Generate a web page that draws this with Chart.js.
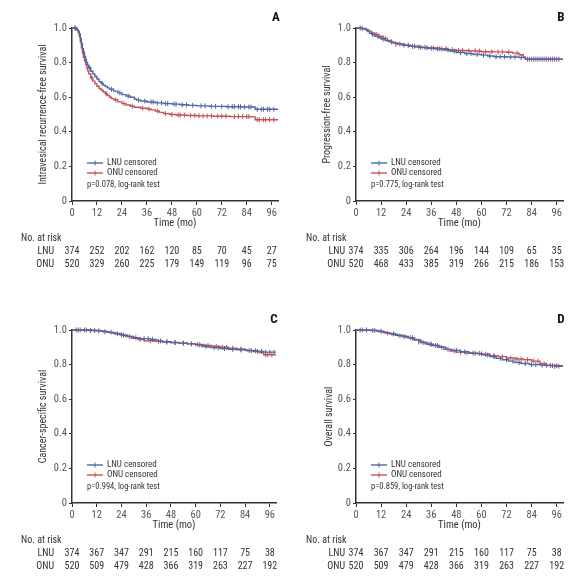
<!DOCTYPE html>
<html><head><meta charset="utf-8">
<script src="https://cdn.jsdelivr.net/npm/chart.js@4/dist/chart.umd.min.js"></script>
<style>
html,body{margin:0;padding:0;background:#fff;}
#wrap{position:relative;width:588px;height:583px;overflow:hidden;background:#fff;}
canvas{position:absolute;}
</style></head><body>
<div id="wrap">
<canvas id="cA" width="294" height="282" style="left:0;top:0"></canvas>
<canvas id="cB" width="294" height="282" style="left:294px;top:0"></canvas>
<canvas id="cC" width="294" height="281" style="left:0;top:302px"></canvas>
<canvas id="cD" width="294" height="281" style="left:294px;top:302px"></canvas>
</div>
<script>
// ---------- data ----------
const months = [0, 12, 24, 36, 48, 60, 72, 84, 96];
const yTicks = [0, 0.2, 0.4, 0.6, 0.8, 1.0];

// Panel A: intravesical recurrence-free survival
const tA_lnu = [0,2,3,3.5,4,4.5,5,5.5,6,6.5,7,7.5,8,9,10,11,12,13,14,15,16,17,18,20,22,24,26,28,30,31,33,36,40,44,48,52,56,60,66,74,82,88,99];
const sA_lnu = [1,0.99,0.98,0.965,0.94,0.91,0.88,0.86,0.835,0.815,0.8,0.785,0.77,0.75,0.735,0.72,0.705,0.69,0.68,0.67,0.662,0.654,0.646,0.635,0.625,0.615,0.607,0.6,0.59,0.583,0.578,0.572,0.567,0.563,0.56,0.556,0.553,0.55,0.547,0.545,0.543,0.53,0.53];
const cA_lnu = [1.5,8.5,14.5,19,23,27,32,35,38,39,41,43,45,46,49,50,53,55,58,62,64,67,69,72,75,77,78,80,81,83,85,86,89,91,92,94,95,97];
const tA_onu = [0,2.5,3,3.5,4,4.5,5,5.5,6,6.5,7,7.5,8,9,10,11,12,13,14,15,16,17,18,19,20,22,24,26,28,30,33,36,38,40,42,44,47,50,55,60,68,76,86,88,99];
const sA_onu = [1,0.99,0.975,0.95,0.92,0.885,0.855,0.83,0.81,0.79,0.77,0.752,0.735,0.712,0.693,0.677,0.663,0.65,0.64,0.63,0.62,0.61,0.6,0.592,0.585,0.573,0.563,0.555,0.548,0.542,0.536,0.532,0.527,0.52,0.512,0.505,0.5,0.497,0.494,0.492,0.49,0.488,0.486,0.47,0.47];
const cA_onu = [1.5,9.5,16.5,21,25,29,34,37,41,45,48,51,52,54,57,59,61,63,65,67,70,72,74,78,80,82,84,85,89,90,92,93,95,97];
const riskA_lnu = [374,252,202,162,120,85,70,45,27];
const riskA_onu = [520,329,260,225,179,149,119,96,75];

// Panel B: progression-free survival
const tB_lnu = [0,3,4.5,5.5,6.5,7.5,9,10.5,12,14,16,18,20,23,26,30,34,38,42,45,48,52,56,60,63,66,72,78,81,99];
const sB_lnu = [1,0.995,0.99,0.98,0.97,0.962,0.952,0.944,0.936,0.928,0.92,0.914,0.908,0.9,0.895,0.888,0.883,0.878,0.873,0.866,0.858,0.852,0.847,0.843,0.838,0.834,0.832,0.829,0.82,0.82];
const cB_lnu = [2,8,13,17,21,25,28,31,33,36,39,41,44,47,50,53,55,58,61,64,67,69,71,74,76,79,83,85,87,89,91,93,95,97];
const tB_onu = [0,3,5,6,7.5,9,11,13,15,17,19,22,25,28,32,36,40,44,48,54,60,66,72,75,78,80,81,99];
const sB_onu = [1,0.997,0.99,0.982,0.972,0.962,0.952,0.94,0.925,0.915,0.907,0.9,0.894,0.89,0.886,0.884,0.88,0.875,0.87,0.867,0.863,0.862,0.86,0.855,0.845,0.832,0.82,0.82];
const cB_onu = [3,10,14,19,23,27,30,34,37,40,43,46,49,51,54,57,59,62,65,68,70,73,77,82,84,86,88,90,92,94,96];
const riskB_lnu = [374,335,306,264,196,144,109,65,35];
const riskB_onu = [520,468,433,385,319,266,215,186,153];

// Panel C: cancer-specific survival
const tC_lnu = [0,8,12,15,18,21,24,27,30,33,38,41,44,48,52,56,60,63,67,72,76,80,85,90,93,99];
const sC_lnu = [1,0.997,0.995,0.99,0.985,0.978,0.97,0.962,0.955,0.95,0.946,0.937,0.932,0.928,0.924,0.92,0.914,0.905,0.898,0.893,0.889,0.885,0.88,0.876,0.872,0.872];
const cC_lnu = [3,6,9,13,16,22,25,31,35,37,39,43,46,50,54,58,62,65,69,71,74,78,82,87,89,92,94,96,98];
const tC_onu = [0,10,14,17,20,23,26,29,32,35,40,44,48,52,56,60,64,68,72,76,80,84,88,91,93,99];
const sC_onu = [1,0.997,0.993,0.988,0.98,0.972,0.962,0.952,0.945,0.938,0.934,0.93,0.927,0.924,0.92,0.916,0.91,0.905,0.9,0.895,0.89,0.882,0.876,0.87,0.857,0.857];
const cC_onu = [2,4,7,11,19,24,28,33,38,42,46,50,54,58,61,66,70,73,75,78,82,86,90,94,95,97];
const riskC_lnu = [374,367,347,291,215,160,117,75,38];
const riskC_onu = [520,509,479,428,366,319,263,227,192];

// Panel D: overall survival
const tD_lnu = [0,6,10,13,16,19,22,25,28,31,34,37,40,43,46,50,54,58,61,64,67,70,73,76,79,83,88,93,99];
const sD_lnu = [1,0.998,0.993,0.985,0.978,0.97,0.962,0.955,0.942,0.928,0.918,0.91,0.9,0.888,0.882,0.874,0.866,0.862,0.855,0.846,0.836,0.828,0.82,0.812,0.806,0.8,0.797,0.794,0.794];
const cD_lnu = [2,5,8,12,18,23,27,32,36,39,44,48,52,56,60,63,66,69,72,75,78,81,84,86,89,91,94,96];
const tD_onu = [0,7,11,14,17,20,24,27,30,33,36,39,42,45,48,52,56,60,64,68,72,76,80,84,88,91,95,99];
const sD_onu = [1,0.997,0.99,0.982,0.974,0.966,0.956,0.945,0.93,0.92,0.91,0.9,0.888,0.878,0.872,0.868,0.865,0.86,0.852,0.846,0.838,0.832,0.828,0.82,0.805,0.795,0.79,0.79];
const cD_onu = [3,9,15,21,26,30,35,38,41,47,50,53,57,59,62,66,70,74,77,79,82,85,87,90,93,95,97];
const riskD_lnu = [374,367,347,291,215,160,117,75,38];
const riskD_onu = [520,509,479,428,366,319,263,227,192];

const seriesNames = ['LNU', 'ONU'];
const legendLabels = ['LNU censored', 'ONU censored'];

// ---------- styling ----------
const FONT = '"Roboto Condensed","DejaVu Sans Condensed",sans-serif';
const BLUE = '#4b67a3';
const RED = '#c5505c';
const AXIS = '#333';

function pts(ts, ss) { return ts.map((t, i) => ({ x: t, y: ss[i] })); }
function stepAt(ts, ss, t) { let v = ss[0]; for (let i = 0; i < ts.length; i++) { if (ts[i] <= t) v = ss[i]; else break; } return v; }
function cens(ts, ss, cs) { return cs.map(t => ({ x: t, y: stepAt(ts, ss, t) })); }

const overlay = {
  id: 'overlay',
  afterDraw(chart) {
    const p = chart.config.options.plugins.overlay;
    const ctx = chart.ctx, a = chart.chartArea, xs = chart.scales.x;
    ctx.save();
    // panel letter
    ctx.fillStyle = '#111';
    ctx.font = 'bold 13px ' + FONT;
    ctx.textAlign = 'center'; ctx.textBaseline = 'middle';
    ctx.fillText(p.letter, a.right - 2, a.top - 10);
    // legend
    ctx.font = '9px ' + FONT;
    ctx.textAlign = 'left';
    [[BLUE, 135], [RED, 145]].forEach(([c, dy], i) => {
      const y = a.top + dy;
      ctx.strokeStyle = c; ctx.lineWidth = 1.4;
      ctx.beginPath(); ctx.moveTo(a.left + 15, y); ctx.lineTo(a.left + 31, y); ctx.stroke();
      ctx.lineWidth = 1;
      ctx.beginPath(); ctx.moveTo(a.left + 23, y - 2.5); ctx.lineTo(a.left + 23, y + 2.5); ctx.stroke();
      ctx.fillStyle = '#333';
      ctx.fillText(legendLabels[i], a.left + 35, y);
    });
    ctx.font = '8.5px ' + FONT;
    ctx.fillText(p.pText, a.left + 15, a.top + 157);
    // risk table
    ctx.fillStyle = '#333';
    ctx.font = '10px ' + FONT;
    ctx.textAlign = 'left';
    ctx.fillText('No. at risk', a.left - p.noRiskOffset, a.bottom + 37);
    [p.riskL, p.riskO].forEach((row, r) => {
      const y = a.bottom + 50 + r * 13;
      ctx.textAlign = 'right';
      ctx.fillText(seriesNames[r], a.left - p.labelGap, y);
      ctx.textAlign = 'center';
      row.forEach((v, i) => ctx.fillText(String(v), xs.getPixelForValue(months[i]), y));
    });
    ctx.restore();
  }
};

function makePanel(id, p) {
  const lineDs = (ts, ss, c) => ({ data: pts(ts, ss), borderColor: c, borderWidth: 1.4, stepped: true, pointRadius: 0, fill: false, clip: 6 });
  const censDs = (ts, ss, cs, c) => ({ data: cens(ts, ss, cs), showLine: false, pointStyle: 'line', rotation: 90, pointRadius: 2.5, pointBorderWidth: 1, borderColor: c, backgroundColor: c, clip: 6 });
  new Chart(document.getElementById(id), {
    type: 'line',
    data: {
      datasets: [
        lineDs(p.tL, p.sL, BLUE), censDs(p.tL, p.sL, p.cL, BLUE),
        lineDs(p.tO, p.sO, RED), censDs(p.tO, p.sO, p.cO, RED)
      ]
    },
    options: {
      responsive: false, animation: false, events: [],
      layout: { padding: { top: 28, left: 0, right: p.rightPad, bottom: p.bottomPad } },
      plugins: {
        legend: { display: false }, tooltip: { enabled: false },
        overlay: p
      },
      scales: {
        x: {
          type: 'linear', min: 0, max: 99,
          afterBuildTicks: s => { s.ticks = months.map(v => ({ value: v })); },
          afterFit: s => { s.height = 30; },
          ticks: { font: { size: 10.5, family: FONT }, color: '#555', padding: 2, maxRotation: 0, autoSkip: false },
          grid: { drawOnChartArea: false, tickLength: 4, color: AXIS, lineWidth: 1 },
          border: { color: AXIS, width: 1.5 },
          title: { display: true, text: 'Time (mo)', font: { size: 10.5, family: FONT }, color: '#333', padding: { top: 0, bottom: 1 } }
        },
        y: {
          min: 0, max: 1,
          afterBuildTicks: s => { s.ticks = yTicks.map(v => ({ value: v })); },
          afterFit: s => { s.width = p.axisLeft; },
          ticks: { font: { size: 10.5, family: FONT }, color: '#555', padding: 2, callback: v => v === 0 ? '0' : v.toFixed(1) },
          grid: { drawOnChartArea: false, tickLength: 3, color: AXIS, lineWidth: 1 },
          border: { color: AXIS, width: 1.5 },
          title: { display: true, text: p.yTitle, font: { size: 10, family: FONT }, color: '#333', padding: { top: p.titlePad, bottom: 0 } }
        }
      }
    },
    plugins: [overlay]
  });
}

makePanel('cA', { letter: 'A', yTitle: 'Intravesical recurrence-free survival', pText: 'p=0.078, log-rank test',
  tL: tA_lnu, sL: sA_lnu, cL: cA_lnu, tO: tA_onu, sO: sA_onu, cO: cA_onu, riskL: riskA_lnu, riskO: riskA_onu,
  axisLeft: 72, rightPad: 16, bottomPad: 51, titlePad: 37, labelGap: 18, noRiskOffset: 51 });
makePanel('cB', { letter: 'B', yTitle: 'Progression-free survival', pText: 'p=0.775, log-rank test',
  tL: tB_lnu, sL: sB_lnu, cL: cB_lnu, tO: tB_onu, sO: sB_onu, cO: cB_onu, riskL: riskB_lnu, riskO: riskB_onu,
  axisLeft: 62, rightPad: 25, bottomPad: 51, titlePad: 27, labelGap: 11, noRiskOffset: 50 });
makePanel('cC', { letter: 'C', yTitle: 'Cancer-specific survival', pText: 'p=0.994, log-rank test',
  tL: tC_lnu, sL: sC_lnu, cL: cC_lnu, tO: tC_onu, sO: sC_onu, cO: cC_onu, riskL: riskC_lnu, riskO: riskC_onu,
  axisLeft: 72, rightPad: 18, bottomPad: 50, titlePad: 37, labelGap: 18, noRiskOffset: 51 });
makePanel('cD', { letter: 'D', yTitle: 'Overall survival', pText: 'p=0.859, log-rank test',
  tL: tD_lnu, sL: sD_lnu, cL: cD_lnu, tO: tD_onu, sO: sD_onu, cO: cD_onu, riskL: riskD_lnu, riskO: riskD_onu,
  axisLeft: 62, rightPad: 25, bottomPad: 50, titlePad: 29, labelGap: 11, noRiskOffset: 50 });
</script>
</body></html>
